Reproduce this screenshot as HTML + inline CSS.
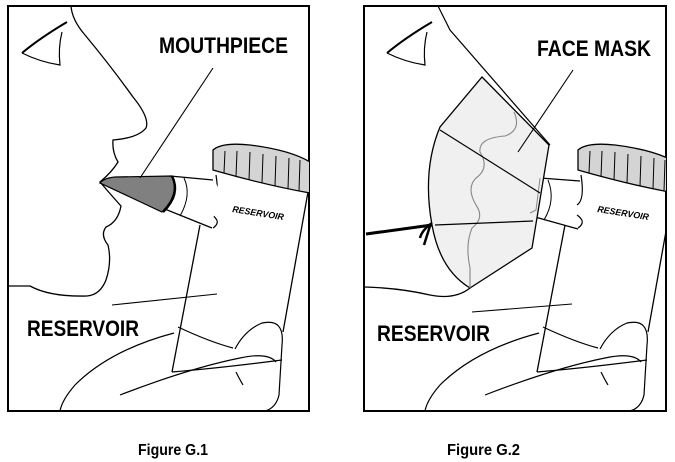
<!DOCTYPE html>
<html><head><meta charset="utf-8"><style>
html,body{margin:0;padding:0;background:#fff;}
svg{display:block}
text{font-family:"Liberation Sans Narrow","Liberation Sans",sans-serif;font-weight:bold;}
</style></head><body>
<svg width="675" height="462" viewBox="0 0 675 462" xmlns="http://www.w3.org/2000/svg">
<defs>
<clipPath id="c1"><rect x="8" y="6" width="301" height="405"/></clipPath>
<clipPath id="c2"><rect x="364" y="6" width="302" height="405"/></clipPath>
<g id="res">
  <path d="M200,225 L172,372" fill="none" stroke="#000" stroke-width="1.3"/>
  <path d="M308,192 L283,332" fill="none" stroke="#000" stroke-width="1.3"/>
  <path d="M216,175 Q220,200 212,205" fill="none" stroke="#000" stroke-width="1.2"/>
  <path d="M212,215 Q222,222 213,228" fill="none" stroke="#000" stroke-width="1.2"/>
  <path d="M213,150 Q222,142 250,145 Q290,150 310,162 L310,193 Q270,186 220,172 L213,170 Z" fill="#d4d4d4" stroke="#000" stroke-width="1.3"/>
  <g stroke="#000" stroke-width="1">
    <line x1="225" y1="151" x2="224" y2="173"/><line x1="237" y1="151" x2="236" y2="177"/>
    <line x1="250" y1="152" x2="249" y2="180"/><line x1="263" y1="154" x2="262" y2="183"/>
    <line x1="276" y1="156" x2="275" y2="186"/><line x1="289" y1="158" x2="288" y2="189"/>
    <line x1="300" y1="160" x2="299" y2="191"/>
  </g>
  <text x="0" y="0" font-size="9" textLength="52" lengthAdjust="spacingAndGlyphs" transform="translate(232,212) rotate(9)" style="font-style:italic">RESERVOIR</text>
  <g fill="none" stroke="#000" stroke-width="1.2">
    <path d="M178,327 Q210,342 233,348"/>
    <path d="M235,349 Q245,330 262,323 Q285,318 282,345 L279,395 Q276,408 265,411"/>
    <path d="M174,333 Q110,350 75,385 Q62,400 60,411"/>
    <path d="M120,395 Q190,368 240,358 Q268,352 276,362"/>
    <path d="M236,372 Q240,380 243,385"/>
    <path d="M172,372 Q220,368 282,360"/>
  </g>
</g>
</defs>

<!-- Panel 1 -->
<rect x="8" y="6" width="301" height="405" fill="#fff" stroke="#000" stroke-width="2"/>
<g clip-path="url(#c1)">
  <path d="M71,6 Q72,20 85,35 Q110,65 133,97 Q150,118 146,128 Q138,138 113,140 Q112,152 118,162 Q112,172 100,182 Q112,196 121,206 Q118,222 106,227 Q100,235 108,245 Q112,262 106,280 Q100,295 87,296 Q50,297 30,286 L8,286" fill="none" stroke="#000" stroke-width="1.3"/>
  <path d="M22,53 Q40,38 67,22" fill="none" stroke="#000" stroke-width="2"/>
  <path d="M22,53 Q40,62 60,65 Q58,48 62,32" fill="none" stroke="#000" stroke-width="1.2"/>
  <use href="#res"/>
  <path d="M162,176 L213,179 Q222,190 220,205 Q212,212 213,228 L210,228 L162,211 Z" fill="#fff" stroke="none"/>
  <path d="M170,176 L213,180" stroke="#000" stroke-width="1.2"/>
  <path d="M100,183 L212,228" stroke="#000" stroke-width="1.3"/>
  <path d="M184,178 Q192,195 180,216" fill="none" stroke="#000" stroke-width="1"/>
  <path d="M100,183 Q104,178 115,177 L172,176 Q180,194 162,212 Z" fill="#808080" stroke="#000" stroke-width="1.2"/>
  <path d="M172,176 Q181,194 163,212" fill="none" stroke="#000" stroke-width="2.5"/>
  <line x1="213" y1="68" x2="140" y2="178" stroke="#000" stroke-width="1.1"/>
  <line x1="112" y1="305" x2="217" y2="294" stroke="#000" stroke-width="1.1"/>
</g>
<text x="159" y="53" font-size="22" textLength="129" lengthAdjust="spacingAndGlyphs">MOUTHPIECE</text>
<text x="27" y="336" font-size="22" textLength="112" lengthAdjust="spacingAndGlyphs">RESERVOIR</text>

<!-- Panel 2 -->
<rect x="364" y="6" width="302" height="405" fill="#fff" stroke="#000" stroke-width="2"/>
<g clip-path="url(#c2)">
  <g transform="translate(365,0)">
    <use href="#res"/>
    <path d="M22,53 Q40,38 67,22" fill="none" stroke="#000" stroke-width="2"/>
    <path d="M22,53 Q40,62 60,65 Q58,48 62,32" fill="none" stroke="#000" stroke-width="1.2"/>
  </g>
  <path d="M365,287 Q400,288 430,295 Q455,300 470,288" fill="none" stroke="#000" stroke-width="1.3"/>
  <path d="M540,178 L580,181 M535,217 L578,229" stroke="#000" stroke-width="1.2"/>
  <path d="M548,180 Q556,200 544,220" fill="none" stroke="#000" stroke-width="1"/>
  <path d="M482,77 L549,145 L532,248 L470,288 Q440,270 432,225 Q422,170 440,127 Z" fill="#f0f0f0" stroke="#000" stroke-width="1.3"/>
  <path d="M514,112 Q522,130 505,136 Q478,138 480,152 Q490,168 476,178 Q466,188 476,205 Q485,218 472,228 Q465,245 470,268 L470,288" fill="none" stroke="#888" stroke-width="1.1"/>
  <path d="M540,178 Q538,195 536,210 L530,213" fill="none" stroke="#888" stroke-width="1"/>
  <line x1="440" y1="130" x2="540" y2="193" stroke="#000" stroke-width="1.2"/>
  <line x1="435" y1="225" x2="533" y2="221" stroke="#000" stroke-width="1.2"/>
  <path d="M438,6 Q445,20 450,30 L550,145" fill="none" stroke="#000" stroke-width="1.2"/>
  <path d="M366,234 L432,225" stroke="#000" stroke-width="3"/>
  <path d="M432,223 Q422,230 420,238 M430,226 L424,245" fill="none" stroke="#000" stroke-width="2.5"/>
  <line x1="573" y1="70" x2="518" y2="152" stroke="#000" stroke-width="1.1"/>
  <line x1="472" y1="312" x2="572" y2="304" stroke="#000" stroke-width="1.1"/>
</g>
<text x="537" y="56" font-size="22" textLength="114" lengthAdjust="spacingAndGlyphs">FACE MASK</text>
<text x="377" y="341" font-size="22" textLength="113" lengthAdjust="spacingAndGlyphs">RESERVOIR</text>

<text x="138" y="455" font-size="16" textLength="70" lengthAdjust="spacingAndGlyphs">Figure G.1</text>
<text x="447" y="455" font-size="16" textLength="73" lengthAdjust="spacingAndGlyphs">Figure G.2</text>
</svg>
</body></html>
